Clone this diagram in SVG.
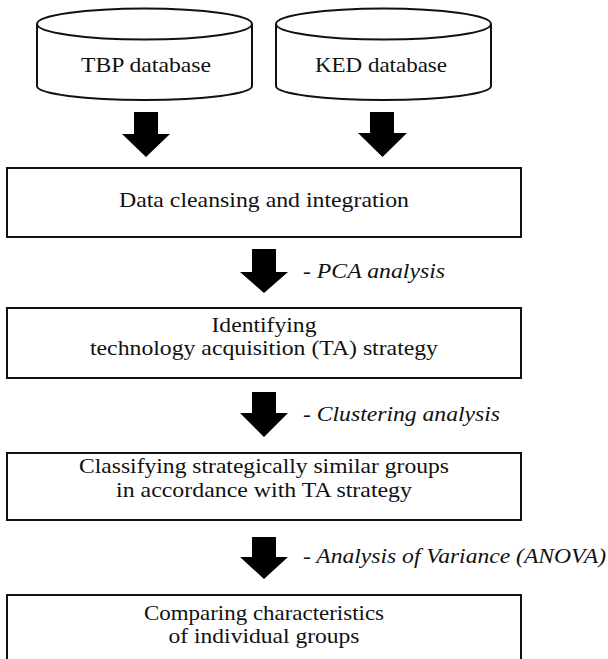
<svg xmlns="http://www.w3.org/2000/svg" width="608" height="659" viewBox="0 0 608 659">
<style>
.shape{fill:#fff;stroke:#111;stroke-width:2}
.t{font-size:21px;fill:#111;text-anchor:middle}
.i{font-size:21px;font-style:italic;fill:#111}
.arr{fill:#000}
</style>
<rect width="608" height="659" fill="#fff"/>
<g font-family="Liberation Serif, DejaVu Serif, serif">
<g id="tbp">
<path class="shape" d="M37,24 L37,86 A107.5,14 0 0 0 252,86 L252,24"/>
<ellipse class="shape" cx="144.5" cy="24" rx="107.5" ry="15.5"/>
<text class="t" x="146" y="72" textLength="130" lengthAdjust="spacingAndGlyphs">TBP database</text>
</g>
<g id="ked">
<path class="shape" d="M276,24 L276,86 A107.5,14 0 0 0 491,86 L491,24"/>
<ellipse class="shape" cx="383.5" cy="24" rx="107.5" ry="15.5"/>
<text class="t" x="381" y="72" textLength="132" lengthAdjust="spacingAndGlyphs">KED database</text>
</g>
<g id="cleansing">
<rect class="shape" x="7" y="168" width="514" height="69"/>
<text class="t" x="264" y="207" textLength="290" lengthAdjust="spacingAndGlyphs">Data cleansing and integration</text>
</g>
<g id="identify">
<rect class="shape" x="7" y="308" width="514" height="70"/>
<text class="t" x="264" y="332" textLength="105" lengthAdjust="spacingAndGlyphs">Identifying</text>
<text class="t" x="264" y="355" textLength="348" lengthAdjust="spacingAndGlyphs">technology acquisition (TA) strategy</text>
</g>
<g id="classify">
<rect class="shape" x="7" y="453" width="514" height="67"/>
<text class="t" x="264" y="473" textLength="370" lengthAdjust="spacingAndGlyphs">Classifying strategically similar groups</text>
<text class="t" x="264" y="497" textLength="296" lengthAdjust="spacingAndGlyphs">in accordance with TA strategy</text>
</g>
<g id="compare">
<rect class="shape" x="7" y="595" width="514" height="80"/>
<text class="t" x="264" y="620" textLength="240" lengthAdjust="spacingAndGlyphs">Comparing characteristics</text>
<text class="t" x="264" y="643" textLength="191" lengthAdjust="spacingAndGlyphs">of individual groups</text>
</g>
<g id="connectors">
<polygon class="arr" points="134,112 158,112 158,134 170,134 146,157 122,134 134,134"/>
<polygon class="arr" points="370,112 394,112 394,133 407,133 382.5,157 358,133 370,133"/>
<polygon class="arr" points="252,249 276,249 276,272 288,272 264,293 240,272 252,272"/>
<text class="i" x="303" y="278" textLength="142" lengthAdjust="spacingAndGlyphs">- PCA analysis</text>
<polygon class="arr" points="252,392 276,392 276,413 288,413 264,437 240,413 252,413"/>
<text class="i" x="303" y="421" textLength="197" lengthAdjust="spacingAndGlyphs">- Clustering analysis</text>
<polygon class="arr" points="252,537 276,537 276,557 288,557 264,579 240,557 252,557"/>
<text class="i" x="303" y="563" textLength="303" lengthAdjust="spacingAndGlyphs">- Analysis of Variance (ANOVA)</text>
</g>
</g>
</svg>
